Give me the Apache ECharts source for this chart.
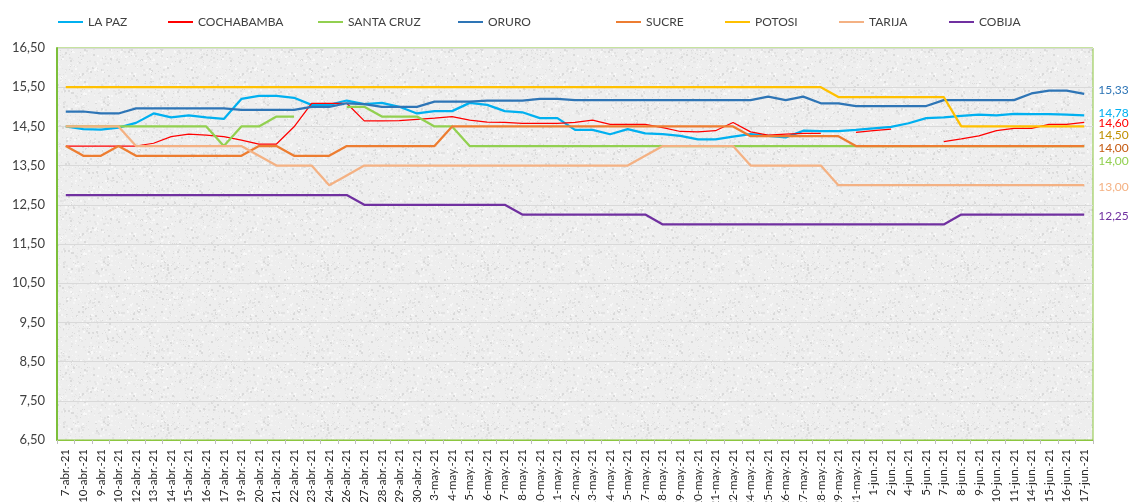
<!DOCTYPE html>
<html>
<head>
<meta charset="utf-8">
<script src="https://cdn.jsdelivr.net/npm/echarts@6/dist/echarts.min.js"></script>
<style>
  html, body { margin: 0; padding: 0; background: #ffffff; }
  #chart { width: 1131px; height: 502px; }
</style>
</head>
<body>
<div id="chart"></div>
<script>
// categories (dates as printed on the axis)
var categories = ['7-abr.-21', '10-abr.-21', '9-abr.-21', '10-abr.-21', '12-abr.-21', '13-abr.-21', '14-abr.-21',
    '15-abr.-21', '16-abr.-21', '17-abr.-21', '19-abr.-21', '20-abr.-21', '21-abr.-21', '22-abr.-21', '23-abr.-21',
    '24-abr.-21', '26-abr.-21', '27-abr.-21', '28-abr.-21', '29-abr.-21', '30-abr.-21', '3-may.-21', '4-may.-21',
    '5-may.-21', '6-may.-21', '7-may.-21', '8-may.-21', '10-may.-21', '11-may.-21', '12-may.-21', '13-may.-21',
    '14-may.-21', '15-may.-21', '17-may.-21', '18-may.-21', '19-may.-21', '20-may.-21', '21-may.-21', '22-may.-21',
    '24-may.-21', '25-may.-21', '26-may.-21', '27-may.-21', '28-may.-21', '29-may.-21', '31-may.-21', '1-jun.-21',
    '2-jun.-21', '4-jun.-21', '5-jun.-21', '7-jun.-21', '8-jun.-21', '9-jun.-21', '10-jun.-21', '11-jun.-21',
    '14-jun.-21', '15-jun.-21', '16-jun.-21', '17-jun.-21'];

var laPaz = [14.50, 14.43, 14.42, 14.47, 14.59, 14.83, 14.73, 14.78, 14.73, 14.69, 15.20, 15.28, 15.28, 15.23, 15.05,
    15.05, 15.16, 15.07, 15.10, 15.00, 14.83, 14.89, 14.89, 15.10, 15.05, 14.89, 14.86, 14.71, 14.71, 14.41,
    14.41, 14.30, 14.43, 14.32, 14.30, 14.26, 14.17, 14.17, 14.24, 14.30, 14.26, 14.22, 14.39, 14.38, 14.38,
    14.41, 14.45, 14.49, 14.58, 14.71, 14.73, 14.77, 14.80, 14.78, 14.82, 14.81, 14.81, 14.80, 14.78];

var cochabamba = [14.00, 14.00, 14.00, 14.00, 14.00, 14.07, 14.24, 14.30, 14.28, 14.24, 14.15, 14.05, 14.05, 14.49, 15.09,
    15.09, 15.09, 14.64, 14.64, 14.65, 14.68, 14.71, 14.75, 14.66, 14.61, 14.60, 14.58, 14.58, 14.58, 14.60,
    14.66, 14.55, 14.55, 14.55, 14.47, 14.37, 14.36, 14.39, 14.60, 14.36, 14.28, 14.30, 14.32, 14.32, null,
    14.35, 14.39, 14.43, null, null, 14.11, 14.18, 14.26, 14.39, 14.45, 14.45, 14.55, 14.55, 14.60];

var santaCruz = [14.50, 14.50, 14.50, 14.50, 14.50, 14.50, 14.50, 14.50, 14.50, 14.00, 14.50, 14.50, 14.75, 14.75, null,
    null, 15.00, 15.00, 14.75, 14.75, 14.75, 14.50, 14.50, 14.00, 14.00, 14.00, 14.00, 14.00, 14.00, 14.00,
    14.00, 14.00, 14.00, 14.00, 14.00, 14.00, 14.00, 14.00, 14.00, 14.00, 14.00, 14.00, 14.00, 14.00, 14.00,
    14.00, 14.00, 14.00, 14.00, 14.00, 14.00, 14.00, 14.00, 14.00, 14.00, 14.00, 14.00, 14.00, 14.00];

var oruro = [14.88, 14.88, 14.83, 14.83, 14.96, 14.96, 14.96, 14.96, 14.96, 14.96, 14.92, 14.92, 14.92, 14.92, 15.00,
    15.00, 15.09, 15.07, 15.00, 15.00, 15.00, 15.13, 15.13, 15.13, 15.16, 15.16, 15.16, 15.20, 15.20, 15.17,
    15.17, 15.17, 15.17, 15.17, 15.17, 15.17, 15.17, 15.17, 15.17, 15.17, 15.26, 15.17, 15.26, 15.09, 15.09,
    15.02, 15.02, 15.02, 15.02, 15.02, 15.17, 15.17, 15.17, 15.17, 15.17, 15.34, 15.41, 15.41, 15.33];

var sucre = [14.00, 13.75, 13.75, 14.00, 13.75, 13.75, 13.75, 13.75, 13.75, 13.75, 13.75, 14.00, 14.00, 13.75, 13.75,
    13.75, 14.00, 14.00, 14.00, 14.00, 14.00, 14.00, 14.50, 14.50, 14.50, 14.50, 14.50, 14.50, 14.50, 14.50,
    14.50, 14.50, 14.50, 14.50, 14.50, 14.50, 14.50, 14.50, 14.50, 14.25, 14.25, 14.25, 14.25, 14.25, 14.25,
    14.00, 14.00, 14.00, 14.00, 14.00, 14.00, 14.00, 14.00, 14.00, 14.00, 14.00, 14.00, 14.00, 14.00];

var potosi = [15.50, 15.50, 15.50, 15.50, 15.50, 15.50, 15.50, 15.50, 15.50, 15.50, 15.50, 15.50, 15.50, 15.50, 15.50,
    15.50, 15.50, 15.50, 15.50, 15.50, 15.50, 15.50, 15.50, 15.50, 15.50, 15.50, 15.50, 15.50, 15.50, 15.50,
    15.50, 15.50, 15.50, 15.50, 15.50, 15.50, 15.50, 15.50, 15.50, 15.50, 15.50, 15.50, 15.50, 15.50, 15.25,
    15.25, 15.25, 15.25, 15.25, 15.25, 15.25, 14.50, 14.50, 14.50, 14.50, 14.50, 14.50, 14.50, 14.50];

var tarija = [14.50, 14.50, 14.50, 14.50, 14.00, 14.00, 14.00, 14.00, 14.00, 14.00, 14.00, 13.75, 13.50, 13.50, 13.50,
    13.00, 13.25, 13.50, 13.50, 13.50, 13.50, 13.50, 13.50, 13.50, 13.50, 13.50, 13.50, 13.50, 13.50, 13.50,
    13.50, 13.50, 13.50, 13.75, 14.00, 14.00, 14.00, 14.00, 14.00, 13.50, 13.50, 13.50, 13.50, 13.50, 13.00,
    13.00, 13.00, 13.00, 13.00, 13.00, 13.00, 13.00, 13.00, 13.00, 13.00, 13.00, 13.00, 13.00, 13.00];

var cobija = [12.75, 12.75, 12.75, 12.75, 12.75, 12.75, 12.75, 12.75, 12.75, 12.75, 12.75, 12.75, 12.75, 12.75, 12.75,
    12.75, 12.75, 12.50, 12.50, 12.50, 12.50, 12.50, 12.50, 12.50, 12.50, 12.50, 12.25, 12.25, 12.25, 12.25,
    12.25, 12.25, 12.25, 12.25, 12.00, 12.00, 12.00, 12.00, 12.00, 12.00, 12.00, 12.00, 12.00, 12.00, 12.00,
    12.00, 12.00, 12.00, 12.00, 12.00, 12.00, 12.25, 12.25, 12.25, 12.25, 12.25, 12.25, 12.25, 12.25];

// name, data, line colour, end label colour, line width, end label vertical shift, legend x
var seriesDefs = [
    ['LA PAZ', laPaz, '#00B0F0', '#00B0F0', 2.25, -2, 53],
    ['COCHABAMBA', cochabamba, '#FF0000', '#FF0000', 1.25, 1, 163],
    ['SANTA CRUZ', santaCruz, '#92D050', '#92D050', 2.25, 15, 313],
    ['ORURO', oruro, '#2E75B6', '#2E75B6', 2.25, -4, 453],
    ['SUCRE', sucre, '#ED7D31', '#C55A11', 2.25, 2, 611],
    ['POTOSI', potosi, '#FFC000', '#BF9000', 2.25, 9, 720],
    ['TARIJA', tarija, '#F4B183', '#F4B183', 2.25, 2, 834],
    ['COBIJA', cobija, '#7030A0', '#7030A0', 2.25, 2, 944]
];

function fmt(v) {
    return Number(v).toFixed(2).replace('.', ',');
}

// speckled grey background, like the stone texture of the original plot area
function makeTexture() {
    var c = document.createElement('canvas');
    c.width = 160; c.height = 160;
    var g = c.getContext('2d');
    g.fillStyle = '#EEEEEE';
    g.fillRect(0, 0, 160, 160);
    var seed = 12345;
    function next() {
        seed = (seed * 1103515245 + 12345) % 2147483648;
        return seed / 2147483648;
    }
    var shades = ['#E2E2E2', '#F8F8F8', '#DADADA', '#F4F4F4', '#E6E6E6'];
    for (var k = 0; k < 2600; k++) {
        g.fillStyle = shades[Math.floor(next() * shades.length)];
        var s = next() < 0.7 ? 1 : 2;
        g.fillRect(Math.floor(next() * 160), Math.floor(next() * 160), s, s);
    }
    return c;
}

var chart = echarts.init(document.getElementById('chart'));
var font = 'Lato, "Liberation Sans", sans-serif';

var legends = seriesDefs.map(function (d) {
    return {
        data: [d[0]],
        left: d[6],
        top: 11,
        icon: 'rect',
        itemWidth: 25,
        itemHeight: 2,
        textStyle: { color: '#404040', fontSize: 12, fontFamily: font }
    };
});

var series = seriesDefs.map(function (d) {
    return {
        name: d[0],
        type: 'line',
        data: d[1],
        showSymbol: false,
        symbol: 'none',
        connectNulls: false,
        color: d[2],
        lineStyle: { color: d[2], width: d[4] },
        emphasis: { disabled: true },
        endLabel: {
            show: true,
            distance: 14,
            offset: [0, d[5]],
            color: d[3],
            fontSize: 12,
            fontFamily: font,
            formatter: function (p) { return fmt(p.value); }
        }
    };
});

var option = {
    animation: false,
    backgroundColor: '#ffffff',
    legend: legends,
    grid: {
        left: 57,
        right: 38,
        top: 48,
        bottom: 62,
        outerBoundsMode: 'none',
        containLabel: false,
        show: true,
        borderColor: '#8CC63F',
        borderWidth: 1,
        backgroundColor: { image: makeTexture(), repeat: 'repeat' }
    },
    xAxis: {
        type: 'category',
        data: categories,
        boundaryGap: true,
        axisLine: { show: true, lineStyle: { color: '#8CC63F', width: 1 } },
        axisTick: { show: true, interval: 0, length: 4, lineStyle: { color: '#BFBFBF' } },
        axisLabel: {
            interval: 0,
            rotate: 90,
            margin: 9,
            color: '#262626',
            fontSize: 11.5,
            fontFamily: font
        },
        splitLine: { show: false }
    },
    yAxis: {
        type: 'value',
        min: 6.5,
        max: 16.5,
        interval: 1,
        axisLine: { show: true, lineStyle: { color: '#7CBF3A', width: 2 } },
        axisTick: { show: false },
        axisLabel: {
            margin: 12,
            color: '#404040',
            fontSize: 13,
            fontFamily: font,
            formatter: fmt
        },
        splitLine: { show: true, lineStyle: { color: '#D9D9D9', width: 1 } }
    },
    series: series
};

chart.setOption(option);
</script>
</body>
</html>
